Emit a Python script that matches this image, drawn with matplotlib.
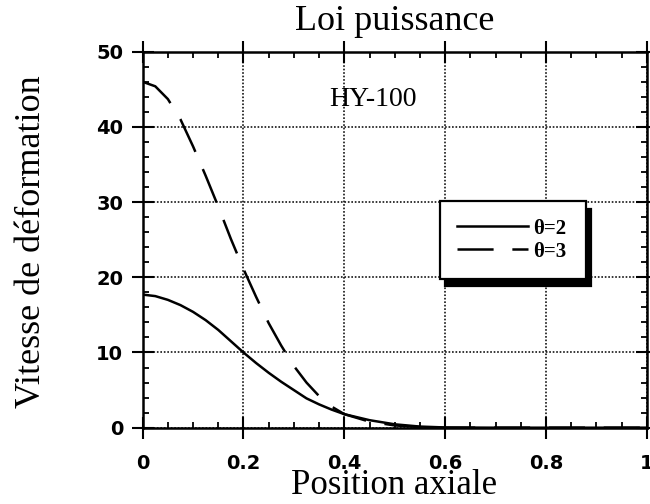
import matplotlib
matplotlib.use("Agg")
import matplotlib.pyplot as plt
from matplotlib.ticker import MultipleLocator, FormatStrFormatter

# valeurs
x_pos = [0, 0.025, 0.05, 0.075, 0.1, 0.125, 0.15, 0.175, 0.2, 0.225, 0.25,
         0.275, 0.3, 0.325, 0.35, 0.375, 0.4, 0.45, 0.5, 0.55, 0.6, 0.7, 1.0]
v_theta2 = [17.7, 17.5, 17.0, 16.3, 15.4, 14.3, 13.0, 11.5, 10.0, 8.6, 7.3,
            6.1, 5.0, 3.9, 3.1, 2.4, 1.8, 1.0, 0.45, 0.15, 0.03, 0.0, 0.0]
v_theta3 = [46.0, 45.4, 43.7, 41.0, 37.4, 33.5, 29.4, 25.1, 21.1, 17.4, 13.9,
            10.9, 8.2, 6.0, 4.2, 2.8, 1.8, 0.8, 0.3, 0.08, 0.0, 0.0, 0.0]
labels = ["θ=2", "θ=3"]

plt.rcParams['lines.scale_dashes'] = False

fig = plt.figure(figsize=(6.5, 5.04), dpi=100)
ax = fig.add_axes([0.2195, 0.1514, 0.7755, 0.746])

ax.plot(x_pos, v_theta2, color='black', lw=1.8, label=labels[0])
ax.plot(x_pos, v_theta3, color='black', lw=1.8, dashes=(26, 13.5), label=labels[1])

ax.set_xlim(0, 1)
ax.set_ylim(0, 50)
ax.xaxis.set_major_locator(MultipleLocator(0.2))
ax.xaxis.set_minor_locator(MultipleLocator(0.05))
ax.yaxis.set_major_locator(MultipleLocator(10))
ax.yaxis.set_minor_locator(MultipleLocator(2))
ax.xaxis.set_major_formatter(FormatStrFormatter('%g'))

ax.grid(True, which='major', color='black', lw=1.1, linestyle=(0, (1.2, 1.3)))
ax.tick_params(which='major', direction='inout', length=16, width=1.5,
               top=True, right=True, labelsize=14)
ax.tick_params(which='minor', direction='in', length=4.5, width=1.3,
               top=True, right=True)
ax.tick_params(axis='x', which='major', pad=11)
ax.tick_params(axis='y', which='major', pad=6)
for lab in ax.get_xticklabels() + ax.get_yticklabels():
    lab.set_fontweight('bold')
    lab.set_fontfamily('DejaVu Sans')
for sp in ax.spines.values():
    sp.set_linewidth(1.8)

ax.text(0.5, 1.057, "Loi puissance", transform=ax.transAxes, ha='center',
        va='baseline', fontsize=26, family='Liberation Serif')
ax.text(0.456, 43.6, "HY-100", ha='center', va='center', fontsize=20,
        family='Liberation Serif')
fig.text(0.048, 0.52, "Vitesse de déformation", rotation=90, ha='center',
         va='center', fontsize=26, family='Liberation Serif')
fig.text(0.607, 0.02, "Position axiale", ha='center', va='baseline',
         fontsize=25, family='Liberation Serif')

leg = ax.legend(loc='lower left', bbox_to_anchor=(0.59, 0.396, 0.289, 0.21),
                mode='expand', fancybox=False, framealpha=1, edgecolor='black',
                handlelength=3.4, handletextpad=0.25, borderpad=0.83,
                labelspacing=0.14, borderaxespad=0,
                prop={'family': 'Liberation Serif', 'weight': 'bold', 'size': 15},
                shadow={'ox': 3.5, 'oy': -5.5, 'facecolor': 'black',
                        'edgecolor': 'black', 'alpha': 1})
leg.get_frame().set_linewidth(1.6)

fig.savefig('out.png', dpi=100, facecolor='white')
